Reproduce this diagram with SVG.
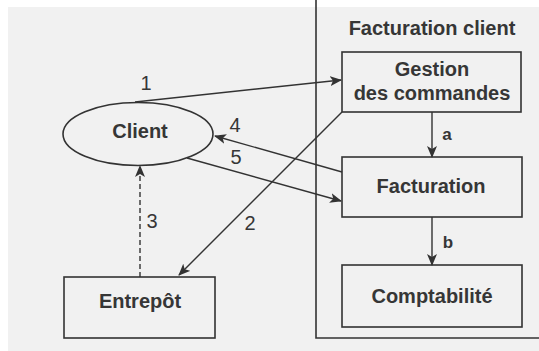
<svg xmlns="http://www.w3.org/2000/svg" width="539" height="351" viewBox="0 0 539 351">
  <defs>
    <marker id="ah" viewBox="0 0 12 10" refX="11" refY="5" markerWidth="12" markerHeight="10" markerUnits="userSpaceOnUse" orient="auto">
      <path d="M0,0 L12,5 L0,10 L3,5 Z" fill="#333"/>
    </marker>
    <style>
      .box { fill: none; stroke: #333; stroke-width: 1.6; }
      .lbl { font-family: "Liberation Sans", Arial, sans-serif; font-weight: bold; font-size: 20px; fill: #363636; text-anchor: middle; }
      .num { font-family: "Liberation Sans", Arial, sans-serif; font-size: 20px; fill: #363636; text-anchor: middle; }
      .let { font-family: "Liberation Sans", Arial, sans-serif; font-weight: bold; font-size: 17px; fill: #363636; text-anchor: middle; }
      .edge { fill: none; stroke: #333; stroke-width: 1.4; marker-end: url(#ah); }
    </style>
  </defs>
  <rect x="0" y="0" width="539" height="351" fill="#ffffff"/>
  <rect x="8" y="7" width="531" height="344" fill="#f1f1f1"/>

  <g id="container">
    <path d="M316,0 L316,338 L539,338" fill="none" stroke="#333" stroke-width="1.6"/>
    <text class="lbl" x="432" y="35">Facturation client</text>
  </g>

  <g id="client">
    <ellipse cx="138" cy="134" rx="75" ry="31.5" class="box"/>
    <text class="lbl" x="140" y="138">Client</text>
  </g>

  <g id="gestion">
    <rect x="342" y="52" width="179" height="60" class="box"/>
    <text class="lbl" x="432" y="76">Gestion</text>
    <text class="lbl" x="432" y="100">des commandes</text>
  </g>

  <g id="facturation">
    <rect x="342" y="157" width="180" height="60" class="box"/>
    <text class="lbl" x="431" y="193">Facturation</text>
  </g>

  <g id="comptabilite">
    <rect x="342" y="265" width="180" height="62" class="box"/>
    <text class="lbl" x="432" y="303">Comptabilité</text>
  </g>

  <g id="entrepot">
    <rect x="64" y="277" width="151" height="61" class="box"/>
    <text class="lbl" x="140" y="308">Entrepôt</text>
  </g>

  <g id="connectors">
    <path class="edge" d="M135,102 L341,80"/>
    <text class="num" x="146" y="90">1</text>

    <path class="edge" d="M342,112 L179,275"/>
    <text class="num" x="250" y="230">2</text>

    <path class="edge" d="M140,277 L140,166" stroke-dasharray="5,3"/>
    <text class="num" x="152" y="228">3</text>

    <path class="edge" d="M342,172 L215,136"/>
    <text class="num" x="235" y="132">4</text>

    <path class="edge" d="M187,158 L341,201"/>
    <text class="num" x="236" y="164">5</text>

    <path class="edge" d="M432,112 L432,157"/>
    <text class="let" x="447" y="140">a</text>

    <path class="edge" d="M432,217 L432,265"/>
    <text class="let" x="448" y="248">b</text>
  </g>
</svg>
